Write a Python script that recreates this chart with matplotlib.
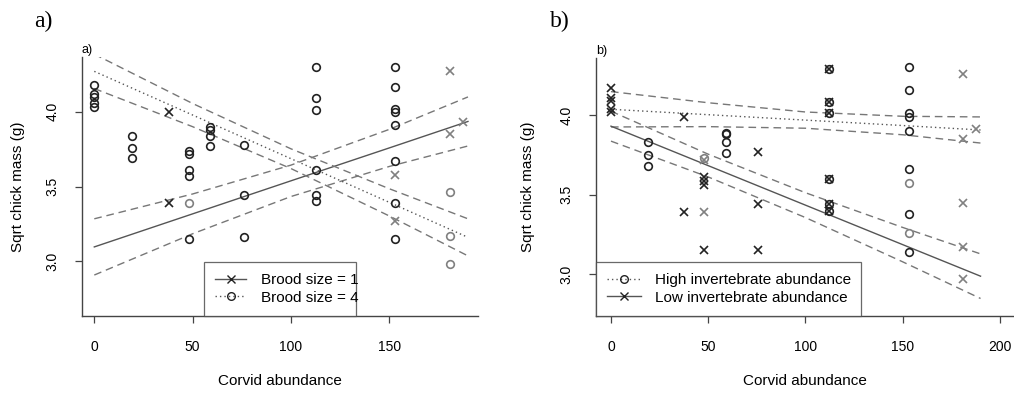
import matplotlib
matplotlib.use("Agg")
import matplotlib.pyplot as plt
from matplotlib.lines import Line2D

plt.rcParams['font.family'] = ['Liberation Sans', 'DejaVu Sans']

# ---- panel a) data : brood size ----
a_b1_x = [38, 38]
a_b1_y = [4.00, 3.39]
a_b1_pale_x = [153, 153, 181, 181, 187.5]
a_b1_pale_y = [3.58, 3.27, 4.27, 3.85, 3.93]

a_b4_x = [0, 0, 0, 0, 0, 19, 19, 19, 48, 48, 48, 48, 48, 59, 59, 59, 59,
          76, 76, 76, 112.5, 112.5, 112.5, 112.5, 112.5, 112.5,
          153, 153, 153, 153, 153, 153, 153, 153]
a_b4_y = [4.18, 4.12, 4.10, 4.06, 4.03, 3.84, 3.76, 3.69, 3.74, 3.72, 3.61, 3.57, 3.15,
          3.895, 3.88, 3.84, 3.77, 3.78, 3.44, 3.16,
          4.30, 4.09, 4.01, 3.61, 3.44, 3.40,
          4.30, 4.166, 4.02, 4.00, 3.91, 3.67, 3.39, 3.15]
a_b4_pale_x = [48, 181, 181, 181]
a_b4_pale_y = [3.39, 3.46, 3.17, 2.98]

# fitted lines and confidence limits
fit_x = [0, 50, 100, 150, 190]
a_b1_fit = [3.096, 3.317, 3.538, 3.758, 3.935]
a_b1_upr = [3.284, 3.450, 3.643, 3.882, 4.099]
a_b1_lwr = [2.908, 3.184, 3.433, 3.634, 3.771]
a_b4_fit = [4.270, 3.978, 3.686, 3.394, 3.160]
a_b4_upr = [4.385, 4.055, 3.752, 3.485, 3.284]
a_b4_lwr = [4.155, 3.900, 3.620, 3.303, 3.036]

# ---- panel b) data : invertebrate abundance ----
b_high_x = [19, 19, 19, 59, 59, 59, 59, 112, 112, 112, 112, 112, 112,
            153, 153, 153, 153, 153, 153, 153, 153]
b_high_y = [3.83, 3.75, 3.68, 3.89, 3.88, 3.83, 3.76, 4.29, 4.08, 4.01, 3.60, 3.44, 3.40,
            4.30, 4.16, 4.01, 3.99, 3.90, 3.66, 3.38, 3.14]
b_high_pale_x = [48, 153, 153]
b_high_pale_y = [3.73, 3.57, 3.26]

b_low_x = [0, 0, 0, 0, 0, 37.5, 37.5, 48, 48, 48, 48, 75.5, 75.5, 75.5,
           112, 112, 112, 112, 112, 112]
b_low_y = [4.17, 4.105, 4.09, 4.04, 4.02, 3.99, 3.39, 3.61, 3.585, 3.56, 3.15,
           3.77, 3.44, 3.15, 4.29, 4.08, 4.01, 3.60, 3.44, 3.40]
b_low_pale_x = [48, 48, 181, 181, 181, 181, 181, 187.5]
b_low_pale_y = [3.72, 3.39, 4.26, 3.85, 3.45, 3.17, 2.97, 3.915]

b_high_fit = [4.036, 4.002, 3.968, 3.934, 3.906]
b_high_upr = [4.147, 4.077, 4.019, 3.992, 3.988]
b_high_lwr = [3.925, 3.927, 3.917, 3.876, 3.824]
b_low_fit = [3.930, 3.682, 3.434, 3.186, 2.988]
b_low_upr = [4.024, 3.754, 3.512, 3.294, 3.128]
b_low_lwr = [3.836, 3.611, 3.356, 3.078, 2.848]

W, H = 1014, 401
fig = plt.figure(figsize=(W / 100, H / 100), dpi=100)

dark = '#222222'
pale = '#808080'
linec = '#555555'
cic = '#777777'
dash = (0, (5.5, 3.5))
dot = (0, (1, 2.2))


def px_axes(l, t, r, b):
    return fig.add_axes([l / W, 1 - b / H, (r - l) / W, (b - t) / H])


def style(ax, xt):
    for s in ['top', 'right']:
        ax.spines[s].set_visible(False)
    for s in ['left', 'bottom']:
        ax.spines[s].set_color('#444444')
        ax.spines[s].set_linewidth(1.0)
    ax.set_xticks(xt)
    ax.set_yticks([3.0, 3.5, 4.0])
    ax.set_yticklabels(['3.0', '3.5', '4.0'], rotation=90, va='center')
    ax.tick_params(axis='x', length=5, width=0.9, color='#444444', pad=12, labelsize=10)
    ax.tick_params(axis='y', length=5, width=0.9, color='#444444', pad=11, labelsize=10)


def pts(ax, x, y, m, c):
    if m == 'o':
        ax.plot(x, y, ls='none', marker='o', ms=5.5, mfc='none', mec=c, mew=1.2)
    else:
        ax.plot(x, y, ls='none', marker='x', ms=5.5, mec=c, mew=1.2)


# ---------- panel a ----------
ax = px_axes(82, 57, 478, 316)
ax.set_xlim(-6.25, 195.1)
ax.set_ylim(2.634, 4.366)
style(ax, [0, 50, 100, 150])

ax.plot(fit_x, a_b1_fit, color=linec, lw=1.0)
ax.plot(fit_x, a_b1_upr, color=cic, lw=1.0, ls=dash)
ax.plot(fit_x, a_b1_lwr, color=cic, lw=1.0, ls=dash)
ax.plot(fit_x, a_b4_fit, color=linec, lw=1.0, ls=dot)
ax.plot(fit_x, a_b4_upr, color=cic, lw=1.0, ls=dash)
ax.plot(fit_x, a_b4_lwr, color=cic, lw=1.0, ls=dash)

pts(ax, a_b4_x, a_b4_y, 'o', dark)
pts(ax, a_b4_pale_x, a_b4_pale_y, 'o', pale)
pts(ax, a_b1_x, a_b1_y, 'x', dark)
pts(ax, a_b1_pale_x, a_b1_pale_y, 'x', pale)

ax.set_xlabel('Corvid abundance', fontsize=11)
ax.set_ylabel('Sqrt chick mass (g)', fontsize=11)
ax.xaxis.set_label_coords(280 / W, 1 - 381 / H, transform=fig.transFigure)
ax.yaxis.set_label_coords(18.5 / W, 1 - 187 / H, transform=fig.transFigure)
ax.xaxis.label.set_va('center')
ax.yaxis.label.set_va('center')

h1 = Line2D([], [], color=linec, lw=1.0, marker='x', ms=5.5, mec=dark, mew=1.0)
h4 = Line2D([], [], color=linec, lw=1.0, ls=dot, marker='o', ms=5.5, mfc='none', mec=dark, mew=1.0)
leg = ax.legend([h1, h4], ['Brood size = 1', 'Brood size = 4'], loc='lower left',
                bbox_to_anchor=((204 - 82) / 396, 0, (356 - 204) / 396, 0.3), mode='expand',
                borderaxespad=0, fontsize=11, frameon=True, fancybox=False,
                handlelength=2.0, handletextpad=1.0, labelspacing=0.2, borderpad=0.75,
                numpoints=1)
leg.get_frame().set_edgecolor('#444444')
leg.get_frame().set_linewidth(0.9)

ax.text(0, 1.005, 'a)', transform=ax.transAxes, fontsize=9, ha='left', va='bottom')

# ---------- panel b ----------
bx = px_axes(596, 58, 1014, 316)
bx.set_xlim(-7.7, 207.2)
bx.set_ylim(2.738, 4.358)
style(bx, [0, 50, 100, 150, 200])

bx.plot(fit_x, b_high_fit, color=linec, lw=1.0, ls=dot)
bx.plot(fit_x, b_high_upr, color=cic, lw=1.0, ls=dash)
bx.plot(fit_x, b_high_lwr, color=cic, lw=1.0, ls=dash)
bx.plot(fit_x, b_low_fit, color=linec, lw=1.0)
bx.plot(fit_x, b_low_upr, color=cic, lw=1.0, ls=dash)
bx.plot(fit_x, b_low_lwr, color=cic, lw=1.0, ls=dash)

pts(bx, b_high_x, b_high_y, 'o', dark)
pts(bx, b_high_pale_x, b_high_pale_y, 'o', pale)
pts(bx, b_low_x, b_low_y, 'x', dark)
pts(bx, b_low_pale_x, b_low_pale_y, 'x', pale)

bx.set_xlabel('Corvid abundance', fontsize=11)
bx.set_ylabel('Sqrt chick mass (g)', fontsize=11)
bx.xaxis.set_label_coords(805 / W, 1 - 381 / H, transform=fig.transFigure)
bx.yaxis.set_label_coords(528 / W, 1 - 187 / H, transform=fig.transFigure)
bx.xaxis.label.set_va('center')
bx.yaxis.label.set_va('center')

hh = Line2D([], [], color=linec, lw=1.0, ls=dot, marker='o', ms=5.5, mfc='none', mec=dark, mew=1.0)
hl = Line2D([], [], color=linec, lw=1.0, marker='x', ms=5.5, mec=dark, mew=1.0)
leg2 = bx.legend([hh, hl], ['High invertebrate abundance', 'Low invertebrate abundance'],
                 loc='lower left', bbox_to_anchor=(0, 0, (861 - 596) / 418, 0.3), mode='expand',
                 borderaxespad=0, fontsize=11, frameon=True, fancybox=False,
                 handlelength=2.2, handletextpad=0.9, labelspacing=0.2, borderpad=0.75,
                 numpoints=1)
leg2.get_frame().set_edgecolor('#444444')
leg2.get_frame().set_linewidth(0.9)

bx.text(0, 1.005, 'b)', transform=bx.transAxes, fontsize=9, ha='left', va='bottom')

# big panel letters
fig.text(43 / W, 1 - 21 / H, 'a)', fontsize=17, family='Liberation Serif', ha='center', va='center')
fig.text(560 / W, 1 - 21 / H, 'b)', fontsize=17, family='Liberation Serif', ha='center', va='center')

fig.savefig('out.png', dpi=100)
